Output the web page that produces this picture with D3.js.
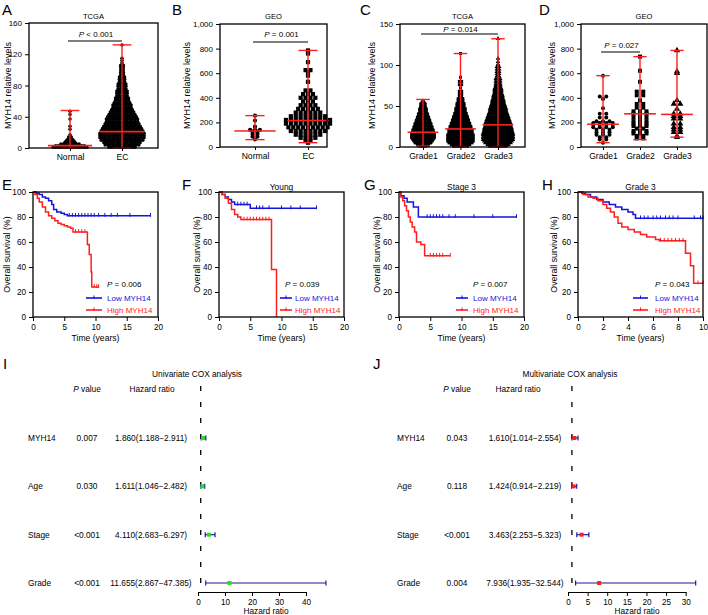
<!DOCTYPE html>
<html><head><meta charset="utf-8">
<script src="https://cdn.jsdelivr.net/npm/d3@7"></script>
<style>body{margin:0;background:#fff} text{font-family:Arial,"Liberation Sans",sans-serif}</style>
</head><body><svg id="c" width="708" height="615"></svg>
<script>
// ---------- DATA ----------
const catsNE = ["Normal","EC"];
const catsGrade = ["Grade1","Grade2","Grade3"];
// [value, number of dots at that level]
const aNormal = [[1,14],[3,12],[5,8],[7,5],[9,4],[11,3],[14,2],[17,1],[24,1],[28,1],[37,1],[43,1],[47,1]];
const aEC = [[1,11],[4,14],[7,15],[10,17],[13,18],[16,18],[19,18],[22,17],[25,16],[28,15],[31,14],[34,13],[37,13],[40,12],[43,11],[46,10],[49,9],[52,8],[55,8],[58,7],[61,6],[64,6],[67,5],[70,5],[73,5],[76,4],[79,4],[82,4],[85,3],[88,3],[91,3],[94,2],[97,2],[100,2],[103,2],[106,2],[109,1],[112,1],[115,1],[132,1]];
const aMedian = [3,21], aMin = [0,0], aMax = [48,132];
const bNormal = [[255,1],[215,1],[165,1],[140,3],[125,2],[105,2],[85,2],[62,1]];
const bEC = [[785,1],[760,1],[690,1],[625,2],[610,1],[580,1],[530,1],[460,2],[430,3],[400,4],[370,3],[340,4],[310,5],[280,6],[250,8],[220,10],[190,10],[160,9],[130,8],[100,6],[75,4],[50,2],[35,1]];
const bMedian = [130,215], bMin = [60,35], bMax = [255,785];
const cG1 = [[1,4],[3,6],[5,8],[7,9],[9,10],[11,11],[13,11],[15,11],[17,11],[19,10],[21,10],[23,9],[25,9],[27,8],[29,8],[31,7],[33,7],[35,6],[37,6],[39,5],[41,5],[43,4],[45,4],[47,4],[49,3],[51,3],[53,3],[55,2],[57,1]];
const cG2 = [[1,7],[3,9],[5,11],[7,12],[9,12],[11,12],[13,12],[15,12],[17,11],[19,11],[21,11],[23,10],[25,10],[27,9],[29,9],[31,8],[33,8],[35,7],[37,7],[39,6],[41,6],[43,5],[45,5],[47,5],[49,4],[51,4],[53,4],[55,3],[57,3],[59,3],[62,2],[65,2],[68,2],[72,1],[76,2],[80,2],[85,1],[114,1]];
const cG3 = [[1,8],[3,10],[5,12],[7,13],[9,14],[11,14],[13,14],[15,14],[17,14],[19,13],[21,13],[23,13],[25,12],[27,12],[29,12],[31,11],[33,11],[35,10],[37,10],[39,9],[41,9],[43,8],[45,8],[47,8],[49,7],[51,7],[53,6],[55,6],[57,6],[59,5],[61,5],[63,5],[65,4],[67,4],[69,4],[71,4],[73,3],[75,3],[77,3],[80,3],[83,3],[86,2],[89,2],[92,2],[95,2],[98,2],[101,1],[104,1],[108,1],[132,1]];
const cMedian = [18,22,27], cMin = [1,0,0], cMax = [58,114,132];
const dG1 = [[580,1],[410,2],[390,1],[315,1],[270,2],[240,2],[210,3],[195,4],[180,4],[160,4],[140,3],[120,3],[100,3],[80,2],[60,2],[35,1]];
const dG2 = [[735,1],[620,1],[530,1],[450,2],[420,2],[380,1],[350,2],[320,2],[290,3],[270,3],[240,3],[210,3],[190,3],[170,3],[150,2],[130,3],[110,3],[90,2],[70,2]];
const dG3 = [[785,1],[615,1],[600,1],[380,1],[350,2],[310,1],[270,2],[250,2],[230,2],[190,2],[160,2],[140,2],[120,2],[90,1],[80,1]];
const dMedian = [185,270,265], dMin = [35,60,80], dMax = [580,735,785];

// Kaplan-Meier steps [time, survival %]
const eLow = [[0,100],[0.5,99],[1,98],[1.5,96],[2,95],[2.5,93],[3,90],[3.3,86],[3.8,84],[4.5,83],[5,82],[5.5,81],[18.8,81]];
const eHigh = [[0,100],[0.3,98],[0.7,95],[1,92],[1.5,88],[2,84],[2.5,81],[3,79],[3.5,77],[4,75],[4.5,74],[5,73],[5.5,72],[6,71],[6.4,68],[8.7,58],[9.0,50],[9.3,36],[9.4,24],[10.5,24]];
const eLowC = [5.8,6.3,6.8,7.3,7.8,8.3,8.8,9.3,9.8,10.5,11.5,12.5,13.5,15.5,18.8];
const eHighC = [6.8,7.3,7.8,8.3,9.8,10.2,10.5];
const fLow = [[0,100],[0.5,98],[1,96],[1.5,94],[2,92],[2.5,90],[5,87],[15.6,87]];
const fHigh = [[0,100],[0.5,98],[1,95],[1.5,91],[2,86],[2.5,82],[3,80],[3.5,78],[8.4,38],[9.2,0]];
const fLowC = [3,3.5,4,4.5,6,6.5,7,8,10,11.5,13,15.6];
const fHighC = [4,4.5,5,5.5,6,6.5,7,7.5,8];
const gLow = [[0,100],[0.3,97],[0.8,95],[1.3,92],[2.3,88],[3.1,80],[18.8,80]];
const gHigh = [[0,100],[0.3,96],[0.6,93],[0.9,89],[1.2,85],[1.5,80],[1.8,76],[2.1,72],[2.5,68],[2.8,60],[3.5,58],[4.1,49],[8.2,49]];
const gLowC = [4.5,5,5.5,6,6.5,7,8,9,12,15,18.8];
const gHighC = [5,5.5,6,6.5,7,8.2];
const hLow = [[0,100],[0.3,99],[0.6,98],[1,96],[1.5,94],[2,92],[2.5,90],[3,88],[3.5,86],[4,84],[4.4,82],[4.6,79],[10,79]];
const hHigh = [[0,100],[0.4,98],[0.8,96],[1.2,95],[1.6,93],[2,90],[2.3,87],[2.6,84],[2.9,80],[3.2,75],[3.5,72],[4,70],[4.5,68],[5,66],[5.5,64],[6.2,62],[6.5,61],[8.6,51],[9.0,41],[9.25,27],[10,27]];
const hLowC = [5,5.3,5.6,6,6.3,6.6,7,7.3,7.6,8,9.3,9.8,10];
const hHighC = [6.6,6.9,7.2,7.5,7.8,8.1,8.4,9.6,10];

// Cox analyses
const coxVars = ["MYH14","Age","Stage","Grade"];
const uniP = ["0.007","0.030","<0.001","<0.001"];
const uniHR = [1.860,1.611,4.110,11.655];
const uniLo = [1.188,1.046,2.683,2.867];
const uniHi = [2.911,2.482,6.297,47.385];
const multiP = ["0.043","0.118","<0.001","0.004"];
const multiHR = [1.610,1.424,3.463,7.936];
const multiLo = [1.014,0.914,2.253,1.935];
const multiHi = [2.554,2.219,5.323,32.544];

// ---------- DRAWING ----------
const svg = d3.select("#c");
const RED = "#ff1e1e", BLUE = "#1414e0", NAVY = "#1a1a9a", GREEN = "#22e022";

function rich(g, x, y, parts, size, anchor, fill) {
  const t = g.append("text").attr("x", x).attr("y", y).attr("font-size", size)
    .attr("text-anchor", anchor || "start").attr("fill", fill || "#000");
  parts.forEach(p => {
    const s = t.append("tspan").text(p[0]);
    if (p[1]) s.attr("font-style", "italic");
  });
  return t;
}
function label(g, x, y, s, size, anchor, fill) { return rich(g, x, y, [[s]], size, anchor, fill); }
function styleAxis(a, size) {
  a.selectAll("text").attr("font-size", size).attr("fill", "#000").attr("font-family", 'Arial,"Liberation Sans",sans-serif');
  a.selectAll(".tick line").attr("stroke", "#000").attr("stroke-width", 1);
}
function marker(g, shape, x, y, r) {
  if (shape === "c") g.append("circle").attr("cx", x).attr("cy", y).attr("r", r).attr("fill", "#000");
  else if (shape === "s") g.append("rect").attr("x", x - r).attr("y", y - r).attr("width", 2 * r).attr("height", 2 * r).attr("fill", "#000");
  else g.append("path").attr("d", d3.symbol(d3.symbolTriangle, r * r * 4.2)()).attr("transform", `translate(${x},${y})`).attr("fill", "#000");
}

function dotPanel(o) {
  const g = svg.append("g");
  const y = d3.scaleLinear().domain([0, o.yMax]).range([o.yb, o.yt]);
  const x = d3.scalePoint().domain(o.cats).range(o.cx);
  const step = (o.cx[1] - o.cx[0]) / (o.cats.length - 1);
  o.groups.forEach((rows, gi) => {
    const cx = x(o.cats[gi]);
    rows.forEach(([v, c]) => {
      for (let i = 0; i < c; i++) marker(g, o.shapes[gi], cx + (i - (c - 1) / 2) * o.sp, y(v), o.r);
    });
  });
  o.cats.forEach((c, i) => {
    const cx = x(c), mw = step * o.mw / 2, cw = step * 0.36 / 2;
    g.append("line").attr("x1", cx).attr("x2", cx).attr("y1", y(o.min[i])).attr("y2", y(o.max[i])).attr("stroke", RED).attr("stroke-width", 1.4);
    g.append("line").attr("x1", cx - mw).attr("x2", cx + mw).attr("y1", y(o.med[i])).attr("y2", y(o.med[i])).attr("stroke", RED).attr("stroke-width", 1.6);
    [o.min[i], o.max[i]].forEach(v => g.append("line").attr("x1", cx - cw).attr("x2", cx + cw).attr("y1", y(v)).attr("y2", y(v)).attr("stroke", RED).attr("stroke-width", 1.4));
  });
  g.append("rect").attr("x", o.xl).attr("y", o.yt).attr("width", o.xr - o.xl).attr("height", o.yb - o.yt)
    .attr("fill", "none").attr("stroke", "#000").attr("stroke-width", 1.3);
  const ya = g.append("g").attr("transform", `translate(${o.xl},0)`).call(d3.axisLeft(y).tickValues(o.yTicks).tickSize(4).tickSizeOuter(0));
  ya.select(".domain").remove(); styleAxis(ya, 8);
  const xa = g.append("g").attr("transform", `translate(0,${o.yb})`).call(d3.axisBottom(x).tickSize(3).tickSizeOuter(0));
  xa.select(".domain").remove(); styleAxis(xa, 8.6);
  label(g, (o.xl + o.xr) / 2, 19, o.title, 7.6, "middle");
  label(g, o.lx, 15, o.letter, 15);
  label(g, 0, 0, "MYH14 relative levels", 9, "middle").attr("transform", `translate(${o.ylx},${(o.yt + o.yb) / 2}) rotate(-90)`);
  const sx1 = x(o.sig[0]), sx2 = x(o.sig[1]);
  g.append("line").attr("x1", sx1 - 2).attr("x2", sx2).attr("y1", o.sigY).attr("y2", o.sigY).attr("stroke", "#000").attr("stroke-width", 1.2);
  rich(g, (sx1 + sx2) / 2, o.sigY - o.sigDy, [["P", true], [o.sigText]], 8, "middle");
}

dotPanel({letter:"A", lx:2, title:"TCGA", xl:29, xr:158, yt:23, yb:148, cx:[70,122], cats:catsNE, yMax:160, yTicks:[0,40,80,120,160],
  groups:[aNormal,aEC], shapes:["c","c"], r:1.75, sp:2.6, mw:0.85, med:aMedian, min:aMin, max:aMax, ylx:11, sig:["Normal","EC"], sigY:41, sigDy:4.5, sigText:" < 0.001"});
dotPanel({letter:"B", lx:172, title:"GEO", xl:220, xr:327, yt:24, yb:147, cx:[255,308], cats:catsNE, yMax:1000, yTicks:[0,200,400,600,800,1000],
  groups:[bNormal,bEC], shapes:["c","s"], r:2.1, sp:4.9, mw:0.78, med:bMedian, min:bMin, max:bMax, ylx:190, sig:["Normal","EC"], sigY:42, sigDy:5, sigText:" = 0.001"});
dotPanel({letter:"C", lx:360, title:"TCGA", xl:400, xr:525, yt:24, yb:147, cx:[423,498], cats:catsGrade, yMax:150, yTicks:[0,50,100,150],
  groups:[cG1,cG2,cG3], shapes:["c","s","t"], r:1.5, sp:2.3, mw:0.82, med:cMedian, min:cMin, max:cMax, ylx:375, sig:["Grade1","Grade3"], sigY:34, sigDy:2, sigText:" = 0.014"});
dotPanel({letter:"D", lx:539, title:"GEO", xl:581, xr:707, yt:24, yb:147, cx:[603,677], cats:catsGrade, yMax:1000, yTicks:[0,200,400,600,800,1000],
  groups:[dG1,dG2,dG3], shapes:["c","s","t"], r:2.0, sp:6.5, mw:0.86, med:dMedian, min:dMin, max:dMax, ylx:555, sig:["Grade1","Grade2"], sigY:52, sigDy:4.5, sigText:" = 0.027"});

function survAt(steps, t) { let s = 100; steps.forEach(d => { if (d[0] <= t) s = d[1]; }); return s; }

function kmPanel(o) {
  const g = svg.append("g");
  const x = d3.scaleLinear().domain([0, o.xMax]).range([o.xl, o.xr]);
  const y = d3.scaleLinear().domain([0, 100]).range([317, 192]);
  const line = d3.line().x(d => x(d[0])).y(d => y(d[1])).curve(d3.curveStepAfter);
  [[o.low, o.lowC, BLUE], [o.high, o.highC, RED]].forEach(([st, cs, col]) => {
    g.append("path").attr("d", line(st)).attr("fill", "none").attr("stroke", col).attr("stroke-width", 1.5);
    cs.forEach(t => {
      const yy = y(survAt(st, t));
      g.append("line").attr("x1", x(t)).attr("x2", x(t)).attr("y1", yy - 2.8).attr("y2", yy + 1).attr("stroke", col).attr("stroke-width", 1);
    });
  });
  g.append("rect").attr("x", o.xl).attr("y", 192).attr("width", o.xr - o.xl).attr("height", 125)
    .attr("fill", "none").attr("stroke", "#000").attr("stroke-width", 1.3);
  const ya = g.append("g").attr("transform", `translate(${o.xl},0)`).call(d3.axisLeft(y).tickValues([0,20,40,60,80,100]).tickSize(4).tickSizeOuter(0));
  ya.select(".domain").remove(); styleAxis(ya, 8.2);
  const xa = g.append("g").attr("transform", `translate(0,317)`).call(d3.axisBottom(x).tickValues(o.xTicks).tickSize(4).tickSizeOuter(0));
  xa.select(".domain").remove(); styleAxis(xa, 8.2);
  label(g, (o.xl + o.xr) / 2, 341, "Time (years)", 8.6, "middle");
  label(g, 0, 0, "Overall survival (%)", 8.8, "middle").attr("transform", `translate(${o.ylx},254.5) rotate(-90)`);
  label(g, o.lx, 190, o.letter, 15);
  if (o.title) label(g, (o.xl + o.xr) / 2, 190, o.title, 8.4, "middle");
  rich(g, o.px, 287, [["P", true], [" = " + o.p]], 8, "start");
  [["Low MYH14", BLUE, 298], ["High MYH14", RED, 310]].forEach(([t, col, yy]) => {
    g.append("line").attr("x1", o.lg0).attr("x2", o.lg1).attr("y1", yy).attr("y2", yy).attr("stroke", col).attr("stroke-width", 1.6);
    const m = (o.lg0 + o.lg1) / 2;
    g.append("line").attr("x1", m).attr("x2", m).attr("y1", yy - 2.5).attr("y2", yy + 1).attr("stroke", col).attr("stroke-width", 1);
    label(g, o.tx, yy + 3, t, 8, "start", col);
  });
}
kmPanel({letter:"E", lx:2, xl:33, xr:158, xMax:20, xTicks:[0,5,10,15,20], low:eLow, high:eHigh, lowC:eLowC, highC:eHighC, ylx:9.5, px:107, p:"0.006", lg0:86, lg1:102, tx:107});
kmPanel({letter:"F", lx:182, title:"Young", xl:219, xr:344, xMax:20, xTicks:[0,5,10,15,20], low:fLow, high:fHigh, lowC:fLowC, highC:fHighC, ylx:200, px:285, p:"0.039", lg0:280, lg1:292, tx:295});
kmPanel({letter:"G", lx:364, title:"Stage 3", xl:399, xr:524, xMax:20, xTicks:[0,5,10,15,20], low:gLow, high:gHigh, lowC:gLowC, highC:gHighC, ylx:380, px:473, p:"0.007", lg0:456, lg1:468, tx:473});
kmPanel({letter:"H", lx:542, title:"Grade 3", xl:578, xr:703, xMax:10, xTicks:[0,2,4,6,8,10], low:hLow, high:hHigh, lowC:hLowC, highC:hHighC, ylx:557, px:655, p:"0.043", lg0:633, lg1:648, tx:655});

function forest(o) {
  const g = svg.append("g");
  const x = d3.scaleLinear().domain([0, o.xMax]).range([o.a0, o.a1]);
  const y = d3.scalePoint().domain(coxVars).range([438, 583]);
  const fmt = d3.format(".3f");
  label(g, o.lx, 369, o.letter, 15);
  label(g, o.titleX, 377, o.title, 8.3, "middle");
  rich(g, o.pX, 392, [["P", true], [" value"]], 8.3, "middle");
  label(g, o.hX, 392, "Hazard ratio", 8.3, "middle");
  g.append("line").attr("x1", x(1)).attr("x2", x(1)).attr("y1", 386).attr("y2", 592)
    .attr("stroke", "#000").attr("stroke-width", 1.3).attr("stroke-dasharray", "5,11");
  coxVars.forEach((v, i) => {
    const yy = y(v);
    label(g, o.nameX, yy + 3, v, 8.3, "start");
    label(g, o.pX, yy + 3, o.p[i], 8.3, "middle");
    label(g, o.hrX, yy + 3, fmt(o.hr[i]) + "(" + fmt(o.lo[i]) + "\u2212" + fmt(o.hi[i]) + ")", 8.3, "middle");
    g.append("line").attr("x1", x(o.lo[i])).attr("x2", x(o.hi[i])).attr("y1", yy).attr("y2", yy).attr("stroke", NAVY).attr("stroke-width", 1.2);
    [o.lo[i], o.hi[i]].forEach(b => g.append("line").attr("x1", x(b)).attr("x2", x(b)).attr("y1", yy - 2.5).attr("y2", yy + 2.5).attr("stroke", NAVY).attr("stroke-width", 1.2));
    g.append("rect").attr("x", x(o.hr[i]) - 2).attr("y", yy - 2).attr("width", 4).attr("height", 4).attr("fill", o.col);
  });
  const xa = g.append("g").attr("transform", "translate(0,592)").call(d3.axisBottom(x).tickValues(o.ticks).tickSize(4).tickSizeOuter(0));
  xa.select(".domain").attr("stroke", "#000").attr("stroke-width", 1.2); styleAxis(xa, 8.2);
  label(g, o.axLabX, 614, "Hazard ratio", 8.3, "middle");
}
forest({letter:"I", lx:3, title:"Univariate COX analysis", titleX:197, pX:87, hX:152, nameX:28, hrX:151, a0:198, a1:306,
  xMax:40, ticks:[0,10,20,30,40], p:uniP, hr:uniHR, lo:uniLo, hi:uniHi, col:GREEN, axLabX:266});
forest({letter:"J", lx:373, title:"Multivariate COX analysis", titleX:570, pX:457, hX:518, nameX:397, hrX:525, a0:568, a1:685.7,
  xMax:30, ticks:[0,5,10,15,20,25,30], p:multiP, hr:multiHR, lo:multiLo, hi:multiHi, col:RED, axLabX:637});
</script></body></html>
